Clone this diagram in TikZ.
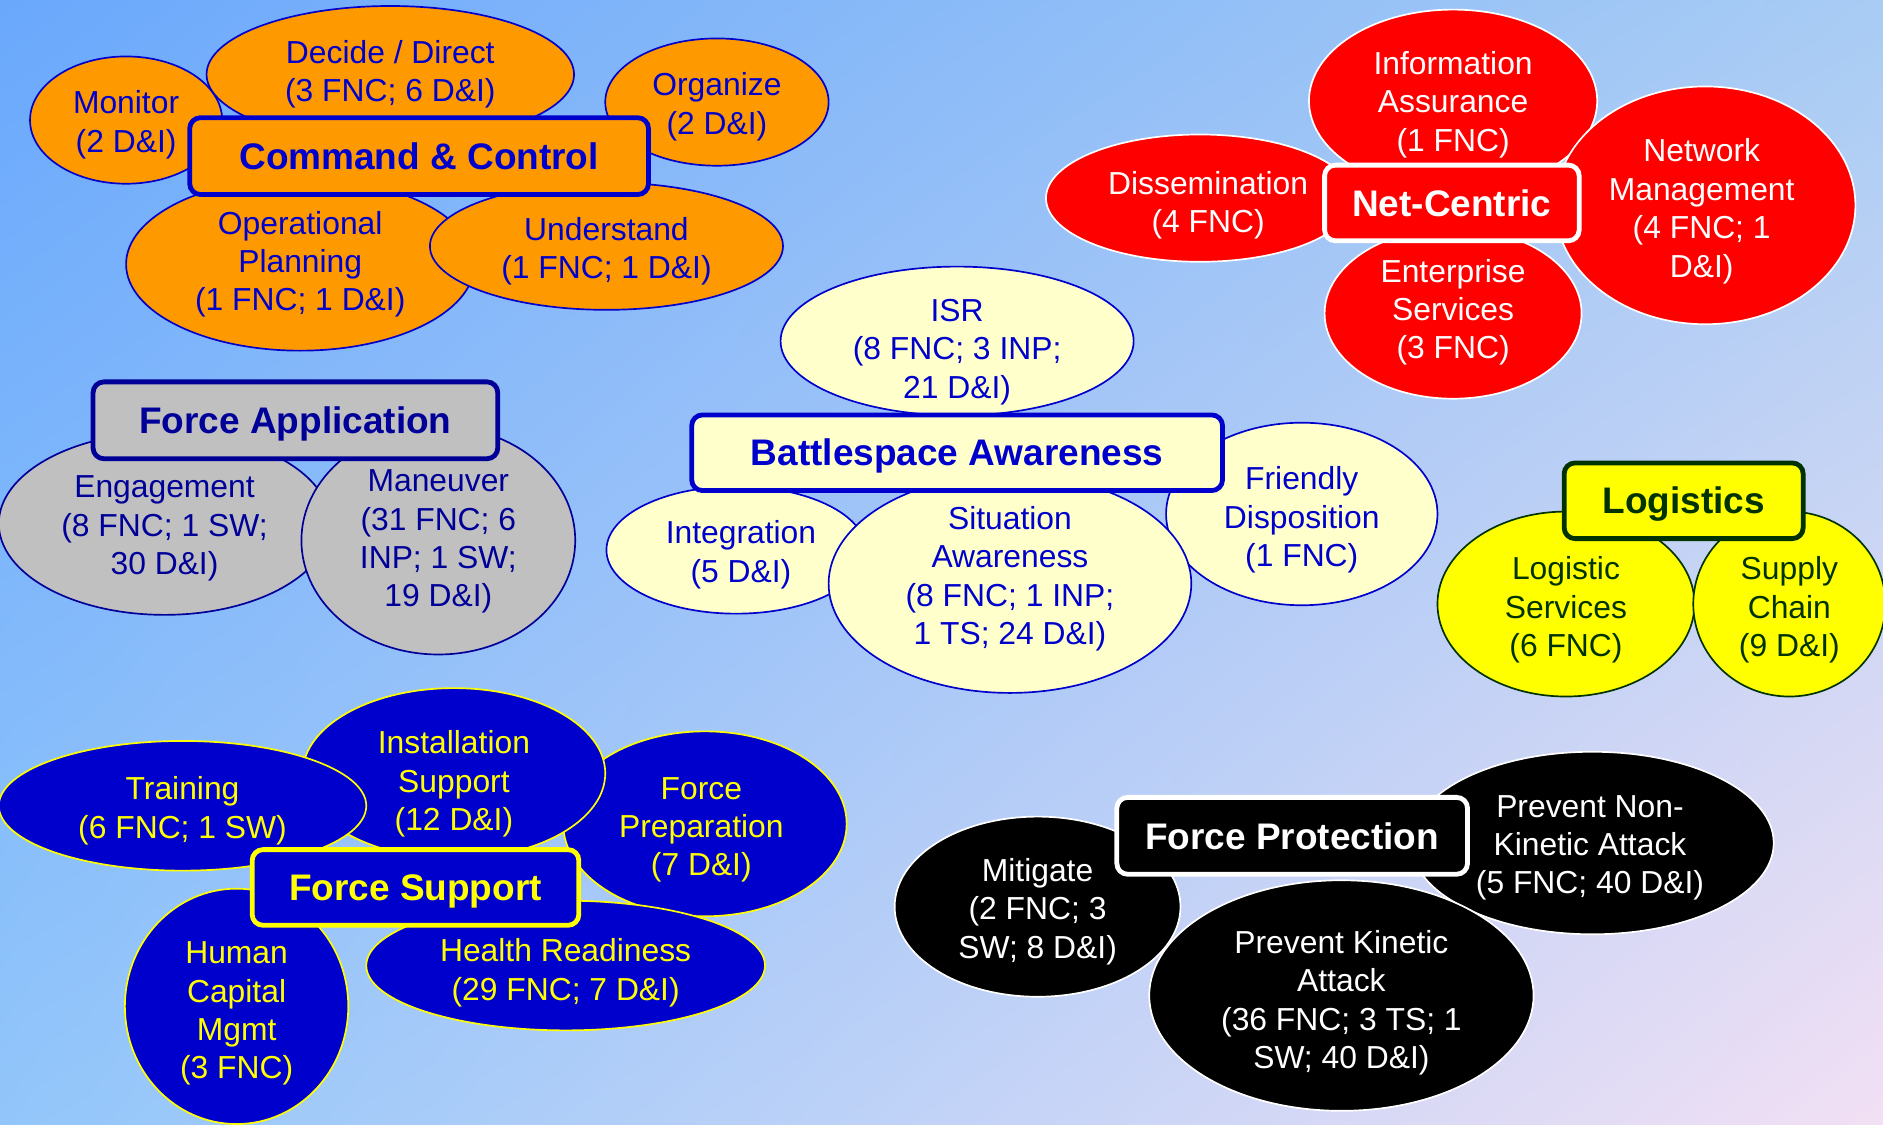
\documentclass[tikz,border=0pt]{standalone}
\usepackage{fontspec}
\setmainfont{Liberation Sans}
\usetikzlibrary{shapes.geometric,shadings}

% background corners
\definecolor{bgTL}{HTML}{6AA8FC}
\definecolor{bgTR}{HTML}{A8CCF4}
\definecolor{bgBL}{HTML}{92C6FA}
\definecolor{bgBR}{HTML}{F2E0F4}
% group palettes
\definecolor{ccFill}{HTML}{FF9900}
\definecolor{ccInk}{HTML}{0000CC}
\definecolor{ncFill}{HTML}{FF0000}
\definecolor{faFill}{HTML}{C0C0C0}
\definecolor{faInk}{HTML}{000099}
\definecolor{baFill}{HTML}{FFFFCC}
\definecolor{baInk}{HTML}{0000CC}
\definecolor{lgFill}{HTML}{FFFF00}
\definecolor{lgInk}{HTML}{003300}
\definecolor{fsFill}{HTML}{0000CC}
\definecolor{fsInk}{HTML}{FFFF00}

\begin{document}
\begin{tikzpicture}[x=1pt,y=-1pt,
  blob/.style 2 args={ellipse, inner sep=0pt, line width=1.4pt,
    minimum width=#1pt, minimum height=#2pt},
  words/.style={text=#1, align=center, inner sep=0pt,
    font=\fontsize{26.5}{32}\selectfont},
  hub/.style 2 args={rectangle, rounded corners=9pt, line width=4pt, inner sep=0pt,
    minimum width=#1pt, minimum height=#2pt, text height=22pt, text depth=0pt,
    font=\fontsize{30.8}{36}\selectfont\bfseries},
  cc/.style={draw=ccInk, fill=ccFill, text=ccInk},
  nc/.style={draw=white, fill=ncFill, text=white},
  fa/.style={draw=faInk, fill=faFill, text=faInk},
  ba/.style={draw=baInk, fill=baFill, text=baInk},
  lg/.style={draw=lgInk, fill=lgFill, text=lgInk},
  fs/.style={draw=fsInk, fill=fsFill, text=fsInk},
  fp/.style={draw=white, fill=black, text=white},
]
\shade[upper left=bgTL, upper right=bgTR, lower left=bgBL, lower right=bgBR]
  (0,0) rectangle (1568,936);
\useasboundingbox (0,0) rectangle (1568,936);

% Command & Control
\node[blob={160}{106}, cc] (monitor) at (105,100) {};
\node[words=ccInk] (monitor-t) at (105,104) {Monitor\\(2 D\&I)};
\node[blob={306}{114}, cc] (decide) at (325,62) {};
\node[words=ccInk] (decide-t) at (325,62) {Decide / Direct\\(3 FNC; 6 D\&I)};
\node[blob={186}{106}, cc] (organize) at (597,85) {};
\node[words=ccInk] (organize-t) at (597,89) {Organize\\(2 D\&I)};
\node[blob={290}{144}, cc] (opplan) at (250,220) {};
\node[words=ccInk] (opplan-t) at (250,220) {Operational\\Planning\\(1 FNC; 1 D\&I)};
\node[blob={294}{106}, cc] (understand) at (505,205) {};
\node[words=ccInk] (understand-t) at (505,209) {Understand\\(1 FNC; 1 D\&I)};
\node[hub={382}{64}, cc] (cchub) at (349,130) {Command \& Control};

% Net-Centric
\node[blob={256}{106}, nc] (dissem) at (999,165) {};
\node[words=white] (dissem-t) at (1006,171) {Dissemination\\(4 FNC)};
\node[blob={240}{152}, nc] (infoas) at (1210,84) {};
\node[words=white] (infoas-t) at (1210,87) {Information\\Assurance\\(1 FNC)};
\node[blob={214}{142}, nc] (entsvc) at (1210,261) {};
\node[words=white] (entsvc-t) at (1210,260) {Enterprise\\Services\\(3 FNC)};
\node[blob={250}{198}, nc] (netmgmt) at (1420,171) {};
\node[words=white] (netmgmt-t) at (1417,176) {Network\\Management\\(4 FNC; 1\\D\&I)};
\node[hub={212}{63}, nc] (nchub) at (1209,169) {Net-Centric};

% Force Application
\node[blob={276}{152}, fa] (engage) at (137,436) {};
\node[words=faInk] (engage-t) at (137,440) {Engagement\\(8 FNC; 1 SW;\\30 D\&I)};
\node[blob={228}{190}, fa] (maneuver) at (365,450) {};
\node[words=faInk] (maneuver-t) at (365,451) {Maneuver\\(31 FNC; 6\\INP; 1 SW;\\19 D\&I)};
\node[hub={337}{64}, fa] (fahub) at (246,350) {Force Application};

% Battlespace Awareness
\node[blob={294}{124}, ba] (isr) at (797,284) {};
\node[words=baInk] (isr-t) at (797,293) {ISR\\(8 FNC; 3 INP;\\21 D\&I)};
\node[blob={216}{106}, ba] (integ) at (613,458) {};
\node[words=baInk] (integ-t) at (617,462) {Integration\\(5 D\&I)};
\node[blob={226}{152}, ba] (friendly) at (1084,428) {};
\node[words=baInk] (friendly-t) at (1084,433) {Friendly\\Disposition\\(1 FNC)};
\node[blob={302}{182}, ba] (sitaware) at (841,486) {};
\node[words=baInk] (sitaware-t) at (841,482) {Situation\\Awareness\\(8 FNC; 1 INP;\\1 TS; 24 D\&I)};
\node[hub={442}{63}, ba] (bahub) at (797,377) {Battlespace Awareness};

% Logistics
\node[blob={214}{154}, lg] (logsvc) at (1304,503) {};
\node[words=lgInk] (logsvc-t) at (1304,508) {Logistic\\Services\\(6 FNC)};
\node[blob={160}{154}, lg] (supply) at (1490,503) {};
\node[words=lgInk] (supply-t) at (1490,508) {Supply\\Chain\\(9 D\&I)};
\node[hub={199}{63}, lg] (lghub) at (1402,417) {Logistics};

% Force Support
\node[blob={236}{154}, fs] (forceprep) at (587,686) {};
\node[words=fsInk] (forceprep-t) at (584,691) {Force\\Preparation\\(7 D\&I)};
\node[blob={252}{142}, fs] (install) at (378,644) {};
\node[words=fsInk] (install-t) at (378,653) {Installation\\Support\\(12 D\&I)};
\node[blob={306}{108}, fs] (training) at (152,671) {};
\node[words=fsInk] (training-t) at (152,675) {Training\\(6 FNC; 1 SW)};
\node[blob={186}{196}, fs] (humancap) at (197,838) {};
\node[words=fsInk] (humancap-t) at (197,844) {Human\\Capital\\Mgmt\\(3 FNC)};
\node[blob={332}{108}, fs] (health) at (471,804) {};
\node[words=fsInk] (health-t) at (471,810) {Health Readiness\\(29 FNC; 7 D\&I)};
\node[hub={272}{63}, fs] (fshub) at (346,739) {Force Support};

% Force Protection
\node[blob={238}{150}, fp] (mitigate) at (864,755) {};
\node[words=white] (mitigate-t) at (864,759) {Mitigate\\(2 FNC; 3\\SW; 8 D\&I)};
\node[blob={302}{152}, fp] (nonkin) at (1326,702) {};
\node[words=white] (nonkin-t) at (1324,706) {Prevent Non-\\Kinetic Attack\\(5 FNC; 40 D\&I)};
\node[blob={320}{192}, fp] (kinetic) at (1117,829) {};
\node[words=white] (kinetic-t) at (1117,835) {Prevent Kinetic\\Attack\\(36 FNC; 3 TS; 1\\SW; 40 D\&I)};
\node[hub={292}{64}, fp] (fphub) at (1076,696) {Force Protection};
\end{tikzpicture}
\end{document}
